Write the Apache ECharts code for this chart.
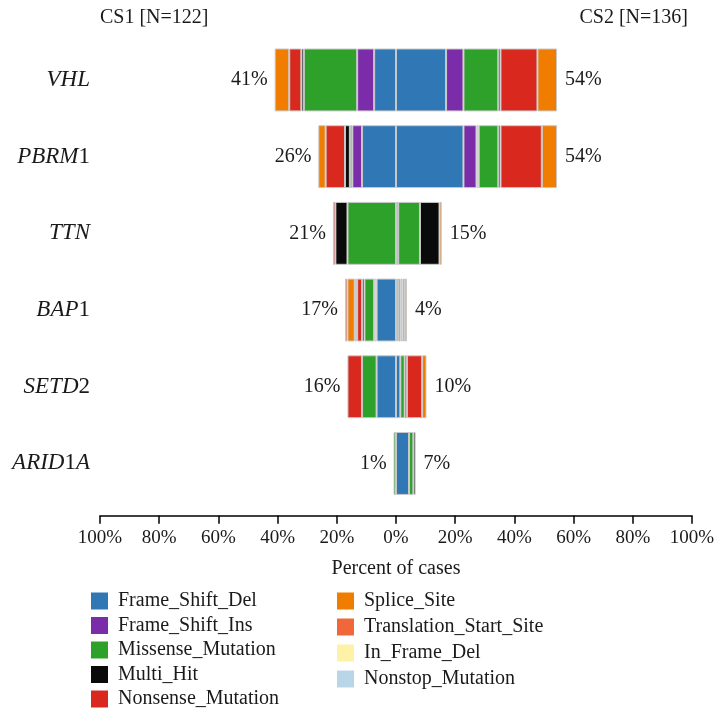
<!DOCTYPE html>
<html>
<head>
<meta charset="utf-8">
<script src="https://cdn.jsdelivr.net/npm/echarts@6/dist/echarts.min.js"></script>
<style>html,body{margin:0;padding:0;background:#fff}#c{width:718px;height:711px}</style>
</head>
<body>
<div id="c"></div>
<script>
// ---- DATA ----
const genes = ['VHL', 'PBRM1', 'TTN', 'BAP1', 'SETD2', 'ARID1A'];
const cohortLeft = 'CS1 [N=122]';
const cohortRight = 'CS2 [N=136]';
const leftPctLabels = [41, 26, 21, 17, 16, 1];
const rightPctLabels = [54, 54, 15, 4, 10, 7];
const xTicks = [-100, -80, -60, -40, -20, 0, 20, 40, 60, 80, 100];

// stacking order (from 0 outward)
const classes = ['Frame_Shift_Del', 'Frame_Shift_Ins', 'In_Frame_Del', 'Missense_Mutation', 'Multi_Hit',
  'Nonsense_Mutation', 'Nonstop_Mutation', 'Splice_Site', 'Translation_Start_Site'];
const legendCol1 = ['Frame_Shift_Del', 'Frame_Shift_Ins', 'Missense_Mutation', 'Multi_Hit', 'Nonsense_Mutation'];
const legendCol2 = ['Splice_Site', 'Translation_Start_Site', 'In_Frame_Del', 'Nonstop_Mutation'];

// CS1 (left), percent of cases per gene
const cs1_Frame_Shift_Del        = [7.38, 11.48, 0, 6.56, 6.56, 0];
const cs1_Frame_Shift_Ins        = [5.74, 3.28, 0, 0, 0, 0];
const cs1_In_Frame_Del           = [0, 0, 0, 0.82, 0, 0];
const cs1_Missense_Mutation      = [18.03, 0.82, 16.39, 3.28, 4.92, 0.82];
const cs1_Multi_Hit              = [0.82, 1.64, 4.10, 0.82, 0, 0];
const cs1_Nonsense_Mutation      = [4.10, 6.56, 0.82, 1.64, 4.92, 0];
const cs1_Nonstop_Mutation       = [0, 0, 0, 0.82, 0, 0];
const cs1_Splice_Site            = [4.92, 2.46, 0, 2.46, 0, 0];
const cs1_Translation_Start_Site = [0, 0, 0, 0.82, 0, 0];

// CS2 (right), percent of cases per gene
const cs2_Frame_Shift_Del        = [16.91, 22.79, 0.74, 0.74, 1.47, 4.41];
const cs2_Frame_Shift_Ins        = [5.88, 4.41, 0, 0, 0, 0];
const cs2_In_Frame_Del           = [0, 0.74, 0, 0, 0, 0];
const cs2_Missense_Mutation      = [11.76, 6.62, 7.35, 0.74, 1.47, 1.47];
const cs2_Multi_Hit              = [0.74, 0.74, 6.62, 0, 0.74, 0.74];
const cs2_Nonsense_Mutation      = [12.50, 13.97, 0, 0, 5.15, 0];
const cs2_Nonstop_Mutation       = [0, 0, 0, 0.74, 0, 0];
const cs2_Splice_Site            = [6.62, 5.15, 0.74, 0.74, 1.47, 0];
const cs2_Translation_Start_Site = [0, 0, 0, 0.74, 0, 0];

const colors = {
  Frame_Shift_Del: '#3077b5',
  Frame_Shift_Ins: '#7a2ca9',
  In_Frame_Del: '#fdf2a6',
  Missense_Mutation: '#2ea12a',
  Multi_Hit: '#0a0a0a',
  Nonsense_Mutation: '#d9291e',
  Nonstop_Mutation: '#b8d6e8',
  Splice_Site: '#f07c00',
  Translation_Start_Site: '#f0683a'
};

const leftData = {
  Frame_Shift_Del: cs1_Frame_Shift_Del, Frame_Shift_Ins: cs1_Frame_Shift_Ins, In_Frame_Del: cs1_In_Frame_Del,
  Missense_Mutation: cs1_Missense_Mutation, Multi_Hit: cs1_Multi_Hit, Nonsense_Mutation: cs1_Nonsense_Mutation,
  Nonstop_Mutation: cs1_Nonstop_Mutation, Splice_Site: cs1_Splice_Site, Translation_Start_Site: cs1_Translation_Start_Site
};
const rightData = {
  Frame_Shift_Del: cs2_Frame_Shift_Del, Frame_Shift_Ins: cs2_Frame_Shift_Ins, In_Frame_Del: cs2_In_Frame_Del,
  Missense_Mutation: cs2_Missense_Mutation, Multi_Hit: cs2_Multi_Hit, Nonsense_Mutation: cs2_Nonsense_Mutation,
  Nonstop_Mutation: cs2_Nonstop_Mutation, Splice_Site: cs2_Splice_Site, Translation_Start_Site: cs2_Translation_Start_Site
};

// ---- CHART ----
const FONT = '"Liberation Serif", "DejaVu Serif", serif';
const TXT = '#1a1a1a';
const series = [];
classes.forEach(cls => {
  const base = {
    name: cls, type: 'bar', stack: 'all', barWidth: '82%',
    itemStyle: { color: colors[cls], borderColor: '#c8c8c8', borderWidth: 1 },
    emphasis: { disabled: true }
  };
  series.push(Object.assign({}, base, { data: leftData[cls].map(v => v ? -v : '-') }));
  series.push(Object.assign({}, base, { data: rightData[cls].map(v => v ? v : '-') }));
});
const leftTot = genes.map((g, i) => classes.reduce((s, c) => s + leftData[c][i], 0));
const rightTot = genes.map((g, i) => classes.reduce((s, c) => s + rightData[c][i], 0));
const lblStyle = { show: true, fontFamily: FONT, fontSize: 20, color: TXT, opacity: 1 };
series.push({
  type: 'scatter', symbolSize: 0, itemStyle: { color: '#ffffff', opacity: 1 }, silent: true, z: 5,
  data: genes.map((g, i) => [-leftTot[i], g]),
  label: Object.assign({}, lblStyle, { position: 'left', distance: 7, formatter: p => leftPctLabels[p.dataIndex] + '%' })
});
series.push({
  type: 'scatter', symbolSize: 0, itemStyle: { color: '#ffffff', opacity: 1 }, silent: true, z: 5,
  data: genes.map((g, i) => [rightTot[i], g]),
  label: Object.assign({}, lblStyle, { position: 'right', distance: 8, formatter: p => rightPctLabels[p.dataIndex] + '%' })
});

const legendBase = {
  orient: 'vertical', icon: 'rect', itemWidth: 17, itemHeight: 17, padding: 0,
  itemStyle: { borderWidth: 0 },
  textStyle: { fontFamily: FONT, fontSize: 20, color: TXT, padding: [0, 0, 0, 5] },
  selectedMode: false
};

const chart = echarts.init(document.getElementById('c'), null, { renderer: 'canvas' });
chart.setOption({
  animation: false,
  backgroundColor: '#fff',
  grid: { left: 100, right: 26, top: 41.6, height: 460.2 },
  xAxis: {
    type: 'value', min: -100, max: 100, interval: 20, offset: 14,
    axisLine: { show: true, lineStyle: { color: '#000', width: 1.5 } },
    axisTick: { show: true, length: 8, lineStyle: { color: '#000', width: 1.5 } },
    splitLine: { show: false },
    axisLabel: { fontFamily: FONT, fontSize: 19, color: TXT, margin: 13,
      formatter: v => xTicks.indexOf(v) >= 0 ? Math.abs(v) + '%' : '' },
    name: 'Percent of cases', nameLocation: 'middle', nameGap: 43,
    nameTextStyle: { fontFamily: FONT, fontSize: 20, color: TXT }
  },
  yAxis: {
    type: 'category', data: genes, inverse: true,
    axisLine: { show: false }, axisTick: { show: false },
    axisLabel: {
      margin: 10,
      formatter: g => g.split(/(\d+)/).filter(s => s).map(s => /\d/.test(s) ? '{n|' + s + '}' : '{i|' + s + '}').join(''),
      rich: {
        i: { fontFamily: FONT, fontSize: 23, fontStyle: 'italic', color: TXT },
        n: { fontFamily: FONT, fontSize: 23, color: TXT }
      }
    }
  },
  legend: [
    Object.assign({}, legendBase, { left: 91, top: 591, height: 140, itemGap: 4.5, data: legendCol1 }),
    Object.assign({}, legendBase, { left: 337, top: 591, height: 140, itemGap: 6, data: legendCol2 })
  ],
  graphic: [
    { type: 'text', left: 100, top: 8, style: { text: cohortLeft, fontFamily: FONT, fontSize: 20, fill: TXT } },
    { type: 'text', right: 30, top: 8, style: { text: cohortRight, fontFamily: FONT, fontSize: 20, fill: TXT } }
  ],
  series: series
});
</script>
</body>
</html>
